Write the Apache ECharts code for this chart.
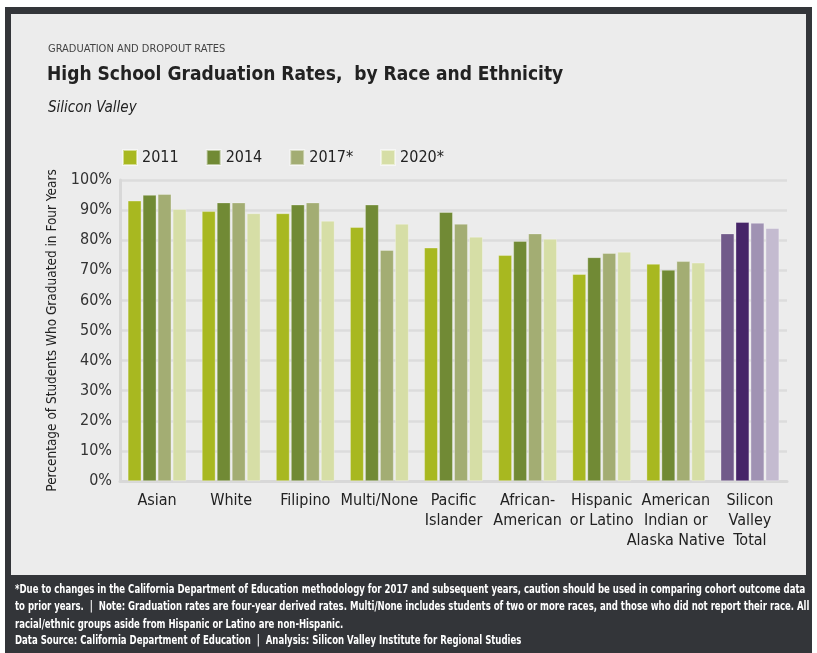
<!DOCTYPE html>
<html><head><meta charset="utf-8">
<script src="https://cdn.jsdelivr.net/npm/echarts@6/dist/echarts.min.js"></script>
<style>html,body{margin:0;padding:0;background:#fff;}#c{width:817px;height:653px;}</style>
</head><body><div id="c"></div>
<script>
const categories = ['Asian','White','Filipino','Multi/None','Pacific\nIslander','African-\nAmerican','Hispanic\nor Latino','American\nIndian or\nAlaska Native','Silicon\nValley\nTotal'];
const years = ['2011','2014','2017*','2020*'];
const r2011 = [93.1,89.6,88.9,84.3,77.5,75.0,68.7,72.1,82.2];
const r2014 = [95.0,92.5,91.8,91.8,89.3,79.7,74.3,70.1,86.0];
const r2017 = [95.3,92.5,92.5,76.7,85.4,82.2,75.7,73.0,85.7];
const r2020 = [90.3,88.9,86.4,85.4,81.1,80.4,76.1,72.5,84.0];
const yTicks = [0,10,20,30,40,50,60,70,80,90,100];
const greens = ['#a8b820','#718a35','#a3ad73','#d6dea6'];
const purples = ['#715a8a','#462568','#a092b3','#c4bbd0'];
const footer = [
 '*Due to changes in the California Department of Education methodology for 2017 and subsequent years, caution should be used in comparing cohort outcome data',
 'to prior years.  |  Note: Graduation rates are four-year derived rates. Multi/None includes students of two or more races, and those who did not report their race. All',
 'racial/ethnic groups aside from Hispanic or Latino are non-Hispanic.',
 'Data Source: California Department of Education  |  Analysis: Silicon Valley Institute for Regional Studies'
];
const FONT = '"Liberation Sans Narrow","DejaVu Sans Condensed","Roboto Condensed",sans-serif';
const seriesData = [r2011,r2014,r2017,r2020];
const chart = echarts.init(document.getElementById('c'));
const series = seriesData.map((arr,i)=>({
  name: years[i], type:'bar', barWidth:13.5, barGap:'11%',
  itemStyle:{color:greens[i], borderColor:'rgba(255,255,255,0.5)', borderWidth:0.6},
  data: arr.map((v,j)=> j===arr.length-1 ? {value:v, itemStyle:{color:purples[i]}} : v)
}));
const graphics = [
  {type:'rect', shape:{x:5,y:7,width:807,height:646}, style:{fill:'#333539'}, z:-10},
  {type:'rect', shape:{x:11,y:14,width:795,height:561}, style:{fill:'#ececec'}, z:-9}
];
const footerY = [584, 601.5, 619, 635];
footer.forEach((t,i)=>graphics.push({type:'text', x:15, y:footerY[i], scaleX:0.825,
  style:{text:t, fill:'#ffffff', font:'bold 11.5px '+FONT}, z:5}));
chart.setOption({
  animation:false,
  title:[
    {text:'GRADUATION AND DROPOUT RATES', left:43, top:39, textStyle:{fontFamily:FONT, fontSize:11, fontWeight:'normal', color:'#444'}},
    {text:'High School Graduation Rates,  by Race and Ethnicity', left:42, top:61, textStyle:{fontFamily:FONT, fontSize:19, fontWeight:'bold', color:'#222'}},
    {text:'Silicon Valley', left:43, top:96, textStyle:{fontFamily:FONT, fontSize:15, fontStyle:'italic', fontWeight:'normal', color:'#222'}}
  ],
  legend:{left:117, top:144, itemWidth:14, itemHeight:15, itemGap:27, icon:'rect',
    textStyle:{fontFamily:FONT, fontSize:16, color:'#222'}, data:years},
  grid:{left:120, right:30, top:180, bottom:172},
  xAxis:{type:'category', data:categories,
    axisLine:{lineStyle:{color:'#d8d8d8', width:3}}, axisTick:{show:false},
    axisLabel:{fontFamily:FONT, fontSize:16, color:'#222', lineHeight:20, margin:10, interval:0}},
  yAxis:{type:'value', min:0, max:100, interval:10,
    name:'Percentage of Students Who Graduated in Four Years', nameLocation:'middle', nameGap:60, nameRotate:90,
    nameTextStyle:{fontFamily:FONT, fontSize:13.5, color:'#222'},
    axisLine:{show:true, lineStyle:{color:'#d8d8d8', width:3}}, axisTick:{show:false},
    splitLine:{lineStyle:{color:'#dcdcdc', width:2.5}},
    axisLabel:{fontFamily:FONT, fontSize:16, color:'#333', margin:8,
      formatter:v=> yTicks.indexOf(v)>=0 ? v+'%' : ''}},
  series: series,
  graphic: graphics
});
</script></body></html>
